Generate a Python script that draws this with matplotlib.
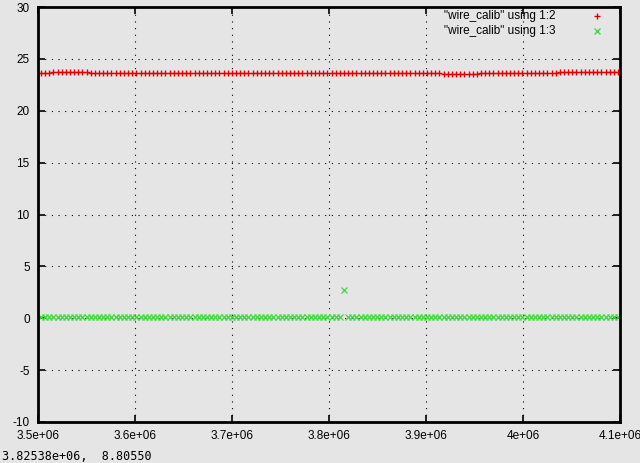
#!/usr/bin/env python3
"""
wire_calib - colunas 2 e 3 contra coluna 1 (estilo gnuplot)
"""

import numpy as np
import matplotlib
matplotlib.use('Agg')
import matplotlib.pyplot as plt
from matplotlib.lines import Line2D
from matplotlib.ticker import FuncFormatter

# ===== DADOS =====
x_start = 3.503e6
x_step = 4.28e3

col2 = [
    23.65, 23.65, 23.65, 23.78, 23.78, 23.78, 23.78, 23.78, 23.78, 23.78,
    23.78, 23.78, 23.68, 23.68, 23.68, 23.68, 23.68, 23.68, 23.68, 23.68,
    23.68, 23.68, 23.68, 23.68, 23.68, 23.68, 23.68, 23.68, 23.68, 23.68,
    23.68, 23.68, 23.62, 23.62, 23.62, 23.62, 23.62, 23.62, 23.62, 23.62,
    23.62, 23.62, 23.62, 23.62, 23.62, 23.62, 23.62, 23.62, 23.62, 23.62,
    23.62, 23.62, 23.65, 23.65, 23.65, 23.65, 23.65, 23.62, 23.62, 23.65,
    23.65, 23.65, 23.65, 23.65, 23.65, 23.65, 23.65, 23.65, 23.65, 23.65,
    23.65, 23.65, 23.65, 23.65, 23.65, 23.65, 23.65, 23.65, 23.65, 23.65,
    23.65, 23.65, 23.65, 23.65, 23.65, 23.65, 23.65, 23.65, 23.65, 23.68,
    23.68, 23.68, 23.68, 23.68, 23.68, 23.68, 23.68, 23.55, 23.55, 23.55,
    23.55, 23.55, 23.55, 23.55, 23.55, 23.55, 23.65, 23.65, 23.65, 23.65,
    23.65, 23.65, 23.65, 23.65, 23.65, 23.65, 23.65, 23.65, 23.65, 23.65,
    23.65, 23.65, 23.65, 23.65, 23.65, 23.72, 23.72, 23.72, 23.72, 23.72,
    23.72, 23.72, 23.72, 23.78, 23.78, 23.78, 23.78, 23.78, 23.78, 23.78,
    23.78,
]

col3 = [0.1] * 73 + [2.7] + [0.1] * 67

xs = x_start + x_step * np.arange(len(col2))

xticks = [3.5e6, 3.6e6, 3.7e6, 3.8e6, 3.9e6, 4.0e6, 4.1e6]
yticks = [-10, -5, 0, 5, 10, 15, 20, 25, 30]
labels = ['"wire_calib" using 1:2', '"wire_calib" using 1:3']
status = '3.82538e+06,  8.80550'

# ===== GRÁFICO =====
bg = '#e5e5e5'
red = '#e00000'
green = '#40d840'
plt.rcParams['font.family'] = 'Liberation Sans'

W, H = 640, 463
fig = plt.figure(figsize=(6.4, 4.63), dpi=100, facecolor=bg)
ax = fig.add_axes([38 / W, 41 / H, 582 / W, 415 / H], facecolor=bg)

ax.plot(xs, col2, linestyle='none', marker='+', color=red,
        markersize=5, markeredgewidth=1.0)
ax.plot(xs, col3, linestyle='none', marker='x', color=green,
        markersize=4, markeredgewidth=0.9)

ax.set_xlim(3.5e6, 4.1e6)
ax.set_ylim(-10, 30)
ax.set_xticks(xticks)
ax.set_yticks(yticks)
ax.xaxis.set_major_formatter(FuncFormatter(lambda v, p: '%g' % v))
ax.yaxis.set_major_formatter(FuncFormatter(lambda v, p: '%g' % v))
ax.tick_params(direction='in', length=5, width=1.2, top=True, right=True,
               labelsize=8.5, colors='black')
ax.tick_params(axis='x', pad=6)
ax.tick_params(axis='y', pad=6)
ax.grid(True, color='black', linestyle=(0, (1, 5)), linewidth=0.8)

for s in ax.spines.values():
    s.set_linewidth(2)
    s.set_color('black')

# legenda no estilo gnuplot (texto alinhado à direita, amostra depois)
for i, (lab, cor, mk, ms) in enumerate(zip(labels, [red, green], ['+', 'x'], [5, 4])):
    yy = 1 - (16 + 15 * i) / H
    fig.text(555 / W, yy, lab, fontsize=8.5, ha='right', va='center')
    fig.add_artist(Line2D([597 / W], [yy], transform=fig.transFigure,
                          linestyle='none', marker=mk, color=cor,
                          markersize=ms, markeredgewidth=1.0))

fig.text(2 / W, 1 - 457 / H, status, fontsize=8.5, va='center', ha='left',
         family='DejaVu Sans Mono')

fig.savefig('out.png', dpi=100, facecolor=bg)
